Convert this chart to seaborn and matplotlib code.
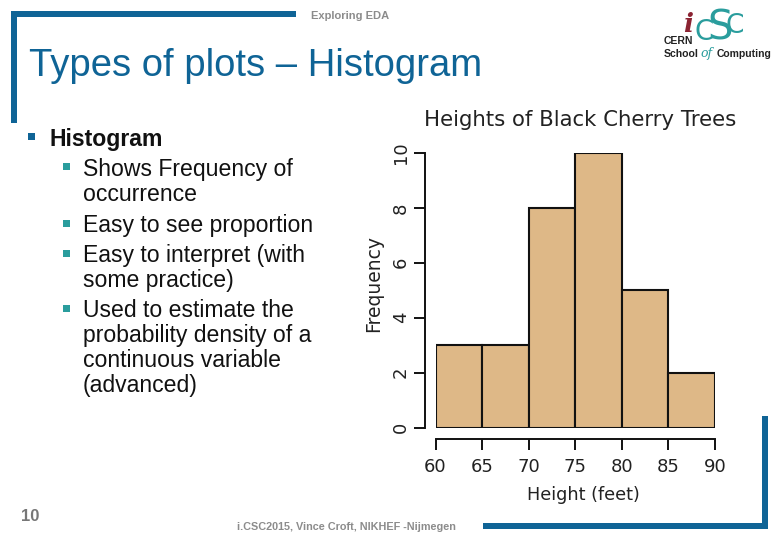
import seaborn as sns
import matplotlib.pyplot as plt
from matplotlib.patches import Rectangle

# histogram counts per 5 ft bin
bin_edges = [60, 65, 70, 75, 80, 85, 90]
bin_mids = [62.5, 67.5, 72.5, 77.5, 82.5, 87.5]
counts = [3, 3, 8, 10, 5, 2]
x_ticks = [60, 65, 70, 75, 80, 85, 90]
y_ticks = [0, 2, 4, 6, 8, 10]

slide_title = 'Types of plots \u2013 Histogram'
chart_title = 'Heights of Black Cherry Trees'

# text, x px, baseline y px, weight
body_lines = [
    ('Histogram', 50, 146, 'bold'),
    ('Shows Frequency of', 83, 176, 'normal'),
    ('occurrence', 83, 201, 'normal'),
    ('Easy to see proportion', 83, 232, 'normal'),
    ('Easy to interpret (with', 83, 262, 'normal'),
    ('some practice)', 83, 287, 'normal'),
    ('Used to estimate the', 83, 317, 'normal'),
    ('probability density of a', 83, 342, 'normal'),
    ('continuous variable', 83, 367, 'normal'),
    ('(advanced)', 83, 392, 'normal'),
]
teal_bullets_y = [163, 220, 250, 305]

W, H = 780, 540
BLUE = '#0f6496'
TEAL = '#2a9d9d'
GREY = '#8c8c8c'
TAN = '#deb887'
INK = '#111111'

sns.set_theme(style='white')
plt.rcParams['font.family'] = ['Liberation Sans', 'DejaVu Sans']

fig = plt.figure(figsize=(W / 100, H / 100), dpi=100, facecolor='white')


def px_text(x, y, s, **kw):
    kw.setdefault('va', 'baseline')
    return fig.text(x / W, 1 - y / H, s, **kw)


def px_rect(x0, y0, x1, y1, color):
    fig.add_artist(Rectangle((x0 / W, 1 - y1 / H), (x1 - x0) / W, (y1 - y0) / H,
                             transform=fig.transFigure, color=color, lw=0))


# slide frame
px_rect(11, 11, 296, 17, BLUE)
px_rect(11, 11, 17, 123, BLUE)
px_rect(483, 523, 768, 529, BLUE)
px_rect(762, 416, 768, 529, BLUE)

# histogram
ax = fig.add_axes([435.5 / W, 1 - 427.5 / H, 279.5 / W, 274.5 / H])
sns.histplot(x=bin_mids, weights=counts, bins=bin_edges, color=TAN, alpha=1,
             edgecolor=INK, linewidth=1.5, ax=ax)
ax.set_xlim(60, 90)
ax.set_ylim(0, 10)
ax.patch.set_alpha(0)
for side in ['top', 'right']:
    ax.spines[side].set_visible(False)
ax.spines['left'].set_position(('outward', 7.6))
ax.spines['bottom'].set_position(('outward', 8.3))
for side in ['left', 'bottom']:
    ax.spines[side].set_linewidth(1.4)
    ax.spines[side].set_color(INK)
ax.set_xticks(x_ticks)
ax.set_yticks(y_ticks)
ax.tick_params(axis='both', length=7.8, width=1.4, color=INK, left=True, bottom=True)
ax.tick_params(axis='x', pad=6)
ax.tick_params(axis='y', pad=3)
for lab in ax.get_xticklabels() + ax.get_yticklabels():
    lab.set_family('DejaVu Sans')
    lab.set_fontsize(13)
    lab.set_color('#222222')
for lab in ax.get_yticklabels():
    lab.set_rotation(90)
    lab.set_va('center')
ax.set_xlabel('')
ax.set_ylabel('')
px_text(580.5, 120, chart_title, family='DejaVu Sans', fontsize=15.3, color='#222222',
        ha='center', va='center')
px_text(583.5, 495, 'Height (feet)', family='DejaVu Sans', fontsize=12.7, color='#222222',
        ha='center', va='center')
px_text(374, 284, 'Frequency', family='DejaVu Sans', fontsize=13.5, color='#222222',
        ha='center', va='center', rotation=90)

# slide text
px_text(29, 76, slide_title, fontsize=27.5, color=BLUE)
px_text(350.5, 19, 'Exploring EDA', fontsize=8, color=GREY, ha='center', weight='bold')
px_text(346, 530, 'i.CSC2015, Vince Croft, NIKHEF -Nijmegen', fontsize=7.8, color=GREY,
        ha='center', weight='bold')
px_text(30, 521, '10', fontsize=12, color='#777777', ha='center', weight='bold')

for text, x, y, weight in body_lines:
    px_text(x, y, text, fontsize=16.6, color=INK, weight=weight)
px_rect(28, 133, 35, 140, BLUE)
for y in teal_bullets_y:
    px_rect(63, y, 70, y + 7, TEAL)

# logo
px_text(688, 32, 'i', family='DejaVu Serif', fontsize=19, style='italic', weight='bold',
        color='#8b2332', ha='center')
px_text(704, 40, 'C', family='DejaVu Sans', fontsize=20, color=TEAL, ha='center')
px_text(720, 39, 'S', family='DejaVu Sans', fontsize=29, color=TEAL, ha='center')
px_text(735, 33, 'C', family='DejaVu Sans', fontsize=19, color=TEAL, ha='center')
px_text(664, 44, 'CERN', fontsize=7.5, color='#222222', weight='bold')
px_text(664, 57, 'School', fontsize=7.6, color='#222222', weight='bold')
px_text(707, 57, 'of', family='DejaVu Serif', fontsize=9, style='italic', color=TEAL, ha='center')
px_text(717, 57, 'Computing', fontsize=7.5, color='#222222', weight='bold')

fig.savefig('out.png', dpi=100)
